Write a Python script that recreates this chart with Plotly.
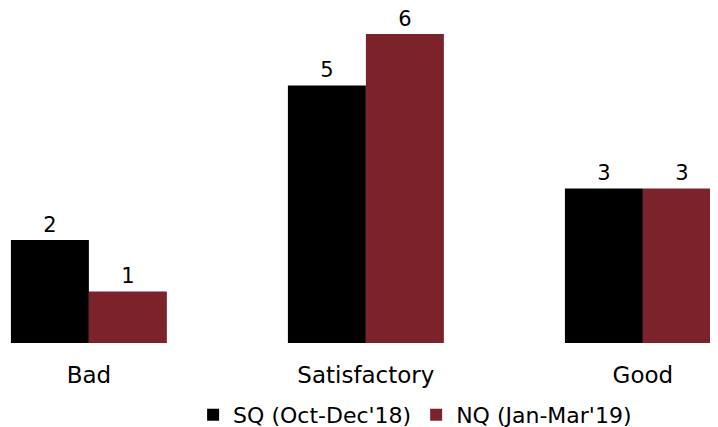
import plotly.graph_objects as go

categories = ['Bad', 'Satisfactory', 'Good']
sq_values = [2, 5, 3]
nq_values = [1, 6, 3]
sq_name = "SQ (Oct-Dec'18)"
nq_name = "NQ (Jan-Mar'19)"

fig = go.Figure()
fig.add_trace(go.Bar(x=categories, y=sq_values, name=sq_name, marker_color='#000000',
                     marker_line_width=0,
                     text=sq_values, textposition='outside', cliponaxis=False,
                     textfont=dict(size=21, color='#000000')))
fig.add_trace(go.Bar(x=categories, y=nq_values, name=nq_name, marker_color='#7B222B',
                     marker_line_width=0,
                     text=nq_values, textposition='outside', cliponaxis=False,
                     textfont=dict(size=21, color='#000000')))

# page body has an 8px margin, so plot coordinates are shifted by -8px
fig.update_layout(
    width=718, height=427,
    barmode='group', bargap=0.437, bargroupgap=0,
    margin=dict(l=0, r=0, t=12, b=92, autoexpand=False),
    plot_bgcolor='white', paper_bgcolor='white',
    font=dict(family='DejaVu Sans', size=23, color='#000000'),
    xaxis=dict(range=[-0.292, 2.30], showline=False, showgrid=False, ticks='',
               tickfont=dict(size=23), ticklabelstandoff=16, automargin=False),
    yaxis=dict(range=[0, 6.27], visible=False),
    legend=dict(orientation='h', x=0.567, xanchor='center', yref='container',
                y=0.047, yanchor='middle', font=dict(size=22), itemwidth=30),
    showlegend=True,
)
fig.write_html('out.html')
